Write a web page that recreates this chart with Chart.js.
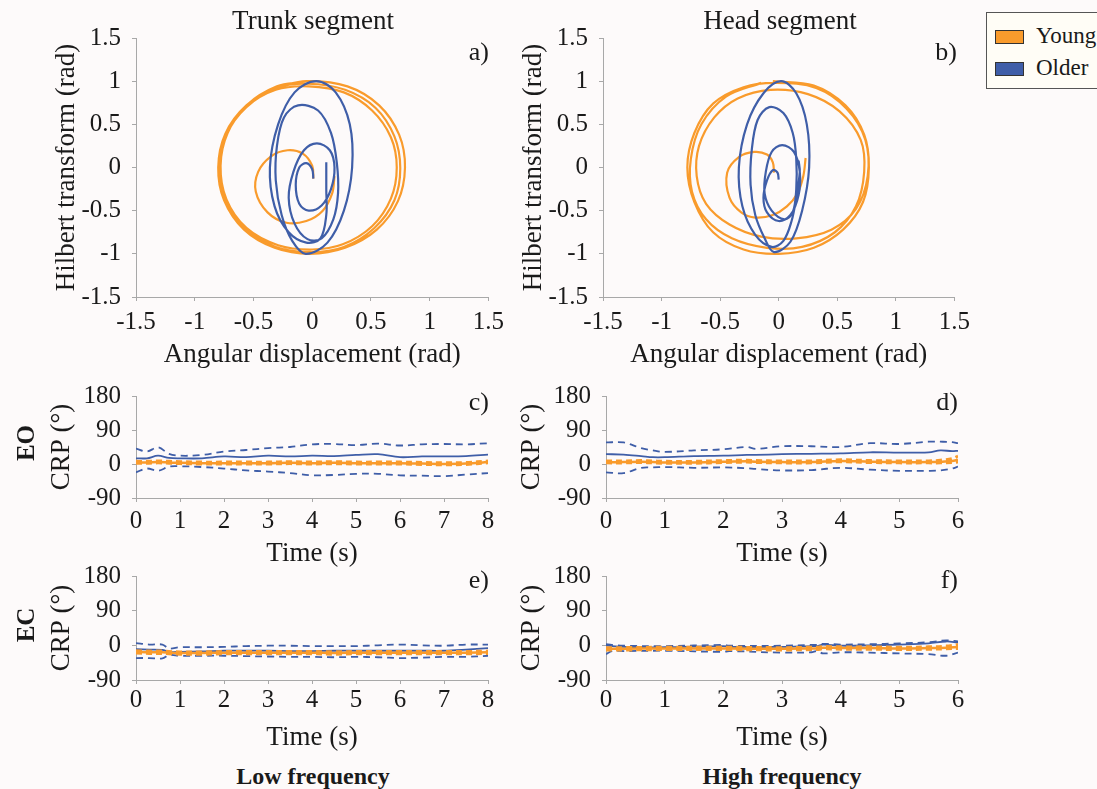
<!DOCTYPE html>
<html>
<head>
<meta charset="utf-8">
<script src="https://cdn.jsdelivr.net/npm/chart.js@4.4.1/dist/chart.umd.min.js"></script>
<style>
  body { margin: 0; background: #fdfafa; }
  #fig { position: relative; width: 1097px; height: 789px; overflow: hidden; background: #fdfafa;
         font-family: 'Liberation Serif', 'Times New Roman', serif; color: #1a1a1a; }
  #fig canvas { position: absolute; }
  .lbl { position: absolute; white-space: nowrap; font-size: 27px; line-height: 1; transform: translate(-50%, -50%); }
  .bold { font-weight: bold; }
  .rot { transform: translate(-50%, -50%) rotate(-90deg); }
  .letter { position: absolute; font-size: 26px; line-height: 1; transform: translate(-100%, -50%); }
  #legend { position: absolute; left: 986px; top: 12px; width: 130px; height: 77px; border: 1px solid #555;
            background: #fffdf6; box-sizing: border-box; }
  #legend .item { position: absolute; left: 8px; height: 24px; font-size: 23px; line-height: 24px; }
  #legend .sw { position: absolute; left: 0; top: 6px; width: 27px; height: 12px; border: 1px solid #333; }
  #legend .txt { position: absolute; left: 41px; top: 0; }
</style>
</head>
<body>
<div id="fig">
  <canvas id="chartA" width="466" height="372" style="left:44px;top:0px"></canvas>
  <canvas id="chartB" width="466" height="372" style="left:510px;top:0px"></canvas>
  <canvas id="chartC" width="466" height="200" style="left:44px;top:370px"></canvas>
  <canvas id="chartD" width="466" height="200" style="left:514px;top:370px"></canvas>
  <canvas id="chartE" width="466" height="205" style="left:44px;top:550px"></canvas>
  <canvas id="chartF" width="466" height="205" style="left:514px;top:550px"></canvas>

  <div class="lbl" style="left:313px;top:20px">Trunk segment</div>
  <div class="lbl" style="left:780px;top:20px">Head segment</div>
  <div class="letter" style="left:489px;top:52px">a)</div>
  <div class="letter" style="left:957px;top:52px">b)</div>
  <div class="letter" style="left:489px;top:402px">c)</div>
  <div class="letter" style="left:958px;top:402px">d)</div>
  <div class="letter" style="left:489px;top:580px">e)</div>
  <div class="letter" style="left:958px;top:580px">f)</div>
  <div class="lbl bold rot" style="left:25px;top:443px;font-size:25px">EO</div>
  <div class="lbl bold rot" style="left:25px;top:625px;font-size:25px">EC</div>
  <div class="lbl bold" style="left:313px;top:776px;font-size:24px">Low frequency</div>
  <div class="lbl bold" style="left:782px;top:776px;font-size:24px">High frequency</div>

  <div id="legend">
    <div class="item" style="top:11px"><span class="sw" style="background:#f99b2c"></span><span class="txt">Young</span></div>
    <div class="item" style="top:43px"><span class="sw" style="background:#3f5ea8"></span><span class="txt">Older</span></div>
  </div>
</div>

<script>
/* ---------- colours / fonts ---------- */
const YOUNG = '#f99b2c';
const OLDER = '#3f5ea8';
const TEXT = '#1a1a1a';
const AXIS = '#a8a8a8';
const TICK_FONT = { family: "'Liberation Serif', serif", size: 25 };
const TITLE_FONT = { family: "'Liberation Serif', serif", size: 27 };

/* ---------- phase portraits (angle, Hilbert transform) ---------- */
// trunk, older (a)
const trunkOlder = [
  [0.01,-0.13],[0.0,-0.02],[-0.05,0.05],[-0.11,0.0],[-0.14,-0.2],[-0.11,-0.42],[-0.03,-0.5],
  [0.08,-0.44],[0.16,-0.25],[0.19,0.0],[0.15,0.2],[0.04,0.28],[-0.07,0.2],[-0.16,-0.05],
  [-0.2,-0.35],[-0.15,-0.65],[-0.04,-0.83],[0.08,-0.82],[0.18,-0.6],[0.22,-0.3],[0.21,0.05],
  [0.16,0.4],[0.05,0.66],[-0.12,0.72],[-0.24,0.58],[-0.3,0.25],[-0.31,-0.15],[-0.26,-0.55],
  [-0.17,-0.85],[-0.055,-1.0],[0.13,-0.87],[0.27,-0.5],[0.34,0.0],[0.32,0.5],[0.2,0.87],
  [0.035,1.0],[-0.15,0.87],[-0.29,0.5],[-0.36,0.0],[-0.32,-0.45],[-0.2,-0.75],[-0.05,-0.87],
  [0.07,-0.82],[0.12,-0.55],[0.12,-0.25],[0.12,0.06]
];
// trunk, young (a): inner spiral and the large loops
const trunkYoungInner = [
  [0.01,-0.13],[0.0,0.02],[-0.08,0.16],[-0.21,0.2],[-0.35,0.13],[-0.46,-0.05],[-0.48,-0.28],
  [-0.38,-0.52],[-0.22,-0.64],[-0.05,-0.62],[0.09,-0.5],[0.17,-0.3],[0.19,-0.1]
];
const trunkYoungLoops = [
  [-0.3,0.93],[-0.05,1.0],[0.3,0.94],[0.57,0.72],[0.74,0.38],[0.79,0.0],[0.73,-0.39],[0.55,-0.72],[0.28,-0.93],
  [-0.02,-1.0],[-0.32,-0.93],[-0.58,-0.72],[-0.75,-0.38],[-0.8,0.0],[-0.74,0.39],[-0.56,0.72],[-0.31,0.92],
  [-0.04,0.97],[0.28,0.9],[0.54,0.69],[0.7,0.36],[0.75,-0.01],[0.7,-0.38],[0.53,-0.7],[0.27,-0.92],
  [-0.01,-0.98],[-0.31,-0.92],[-0.57,-0.7],[-0.74,-0.36],[-0.79,0.01],[-0.73,0.38],[-0.56,0.7],[-0.31,0.9],
  [-0.03,0.94],[0.27,0.87],[0.51,0.66],[0.67,0.35],[0.72,0.0],[0.67,-0.36],[0.51,-0.68],[0.26,-0.89],
  [0.0,-0.95],[-0.29,-0.9],[-0.56,-0.7],[-0.73,-0.37],[-0.78,0.02],[-0.72,0.4],[-0.55,0.73],[-0.3,0.94],
  [-0.08,0.99]
];
// head, older (b)
const headOlder = [
  [0.0,-0.14],[-0.01,-0.06],[-0.05,-0.03],[-0.1,-0.15],[-0.13,-0.35],[-0.1,-0.52],[0.0,-0.62],
  [0.1,-0.55],[0.17,-0.32],[0.18,-0.05],[0.13,0.18],[0.03,0.26],[-0.06,0.18],[-0.11,-0.05],
  [-0.12,-0.3],[-0.06,-0.5],[0.05,-0.6],[0.12,-0.52],[0.15,-0.25],[0.15,0.1],[0.12,0.4],
  [0.04,0.63],[-0.08,0.7],[-0.18,0.55],[-0.23,0.2],[-0.24,-0.2],[-0.2,-0.55],[-0.12,-0.82],
  [-0.04,-0.98],[0.1,-0.86],[0.2,-0.5],[0.26,0.0],[0.24,0.5],[0.15,0.86],[0.02,1.0],
  [-0.13,0.86],[-0.27,0.5],[-0.34,0.0],[-0.31,-0.45],[-0.2,-0.78],[-0.06,-0.92],[0.04,-0.85],
  [0.11,-0.62],[0.15,-0.35],[0.18,-0.05],[0.17,0.08]
];
// head, young (b)
const headYoungInner = [
  [-0.04,-0.06],[-0.05,0.06],[-0.1,0.15],[-0.21,0.18],[-0.34,0.12],[-0.44,-0.06],[-0.42,-0.35],
  [-0.32,-0.52],[-0.2,-0.58],[-0.05,-0.55],[0.07,-0.45],[0.16,-0.3],[0.21,-0.1],[0.23,0.11]
];
const headYoungLoops = [
  [-0.05,1.0],[0.3,0.95],[0.57,0.72],[0.73,0.38],[0.77,0.0],[0.72,-0.4],[0.55,-0.72],[0.3,-0.93],
  [0.0,-1.0],[-0.3,-0.95],[-0.56,-0.75],[-0.72,-0.4],[-0.78,0.0],[-0.72,0.4],[-0.56,0.74],[-0.3,0.93],
  [-0.02,0.98],[0.32,0.92],[0.58,0.68],[0.74,0.32],[0.76,-0.1],[0.66,-0.48],[0.45,-0.72],[0.15,-0.82],
  [-0.15,-0.8],[-0.42,-0.66],[-0.62,-0.42],[-0.7,-0.1],[-0.68,0.25],[-0.55,0.58],[-0.35,0.8],[-0.07,0.9],
  [0.25,0.85],[0.52,0.65],[0.7,0.32],[0.73,-0.05],[0.66,-0.45],[0.48,-0.75],[0.2,-0.92],[-0.1,-0.93],
  [-0.4,-0.82],[-0.62,-0.6],[-0.74,-0.28],[-0.75,0.1],[-0.66,0.5],[-0.45,0.82],[-0.15,0.98]
];

/* ---------- CRP (deg) over time ---------- */
// c) trunk, EO, low frequency
const timeC = [0,0.25,0.5,0.75,1,1.5,2,2.5,3,3.5,4,4.5,5,5.5,6,6.5,7,7.5,8];
const olderMeanC  = [15,15,22,16,15,15,20,18,22,20,22,21,24,26,18,20,20,21,25];
const olderUpperC = [41,33,44,27,22,24,33,37,42,45,52,53,50,54,49,52,53,52,55];
const olderLowerC = [-22,-12,-18,-7,-6,-8,-12,-17,-20,-24,-30,-29,-26,-26,-30,-31,-32,-28,-24];
const youngMeanC  = [4,4,5,4,3,2,2,2,2,3,2,3,2,2,2,1,0,1,5];
const youngUpperC = [7,7,8,7,6,5,5,5,5,6,5,6,5,5,5,4,3,4,8];
const youngLowerC = [2,2,3,2,1,0,0,0,0,1,0,1,0,0,0,-1,-2,-1,3];

// d) head, EO, high frequency
const timeD = [0,0.3,0.6,0.8,1,1.5,2,2.4,2.55,3,3.5,4,4.5,5,5.5,5.7,5.9,6];
const olderMeanD  = [26,25,21,18,18,21,22,24,24,26,27,28,31,30,31,36,34,35];
const olderUpperD = [57,57,42,36,32,36,39,45,40,47,47,45,55,53,59,59,58,55];
const olderLowerD = [-22,-24,-10,-9,-8,-10,-9,-11,-13,-17,-16,-10,-15,-18,-18,-17,-12,-7];
const youngMeanD  = [5,5,6,5,4,4,6,7,6,5,5,8,6,5,5,6,8,11];
const youngUpperD = [8,8,9,8,7,7,9,10,9,8,8,11,9,8,8,10,14,21];
const youngLowerD = [3,3,4,3,2,2,4,5,4,3,3,6,4,3,3,3,4,5];

// e) trunk, EC, low frequency
const timeE = [0,0.3,0.6,0.75,1,1.5,2,2.5,3,3.5,4,4.5,5,5.5,6,6.5,7,7.5,8];
const olderMeanE  = [-10,-11,-12,-17,-17,-16,-14,-14,-14,-15,-15,-14,-14,-14,-14,-14,-14,-11,-7];
const olderUpperE = [6,2,2,-8,-5,-5,-4,-2,-1,-1,-2,-2,-2,0,2,0,-1,2,2];
const olderLowerE = [-33,-33,-34,-25,-27,-27,-27,-28,-29,-30,-30,-31,-30,-31,-33,-32,-30,-30,-27];
const youngMeanE  = [-17,-18,-18,-19,-20,-20,-19,-19,-19,-19,-19,-20,-19,-19,-19,-19,-19,-19,-18];
const youngUpperE = [-14,-15,-15,-16,-17,-17,-16,-16,-16,-16,-16,-17,-16,-16,-16,-16,-16,-16,-15];
const youngLowerE = [-20,-21,-21,-22,-23,-23,-22,-22,-22,-22,-22,-23,-22,-22,-22,-22,-22,-22,-21];

// f) head, EC, high frequency
const timeF = [0,0.1,0.3,1,2,2.1,3,3.5,3.6,3.7,4,4.5,5,5.5,5.8,6];
const olderMeanF  = [0,-2,-4,-5,-2,-4,-4,-2,-2,2,-1,0,2,5,10,7];
const olderUpperF = [3,1,-1,-2,1,-1,-1,1,1,4,2,3,5,8,13,10];
const olderLowerF = [-23,-15,-15,-14,-17,-15,-19,-18,-15,-21,-18,-19,-21,-23,-27,-19];
const youngMeanF  = [-9,-9,-9,-8,-8,-8,-9,-8,-8,-6,-7,-7,-8,-7,-6,-4];
const youngUpperF = [-6,-6,-6,-5,-5,-5,-6,-5,-5,-3,-4,-4,-5,-4,-2,2];
const youngLowerF = [-12,-12,-12,-11,-11,-11,-12,-11,-11,-9,-10,-10,-11,-10,-9,-8];

/* ---------- helpers ---------- */
const toPoints = pairs => pairs.map(p => ({ x: p[0], y: p[1] }));
const zipPoints = (xs, ys) => xs.map((x, i) => ({ x: x, y: ys[i] }));

function lineSet(data, color, width, dash) {
    return {
        data: data,
        borderColor: color,
        backgroundColor: color,
        borderWidth: width,
        borderDash: dash || [],
        showLine: true,
        pointRadius: 0,
        tension: 0.35,
        fill: false
    };
}

/**
 * one linear axis with a fixed box size, so that the plot areas line up
 */
function makeAxis(o) {
    return {
        type: 'linear',
        min: o.min,
        max: o.max,
        ticks: {
            stepSize: o.step,
            padding: o.tickPad,
            color: TEXT,
            font: TICK_FONT,
            callback: (v) => String(v)
        },
        grid: { drawOnChartArea: false, drawTicks: true, tickLength: 4, color: AXIS },
        border: { color: AXIS, width: 1 },
        title: {
            display: true,
            text: o.title,
            color: TEXT,
            font: TITLE_FONT,
            padding: o.titlePad
        },
        afterFit: (scale) => {
            if (o.width) scale.width = o.width;
            if (o.height) scale.height = o.height;
        }
    };
}

function drawPanel(id, datasets, x, y, pad) {
    new Chart(document.getElementById(id), {
        type: 'scatter',
        data: { datasets: datasets },
        options: {
            responsive: false,
            devicePixelRatio: 1,
            animation: false,
            layout: { padding: pad },
            plugins: { legend: { display: false }, tooltip: { enabled: false }, title: { display: false } },
            scales: { x: makeAxis(x), y: makeAxis(y) }
        }
    });
}

/* ---------- a) / b) phase portraits ---------- */
const phaseX = { min: -1.5, max: 1.5, step: 0.5, title: 'Angular displacement (rad)', tickPad: 6,
                 titlePad: { top: 0, bottom: 1 }, height: 75 };

drawPanel('chartA', [
    lineSet(toPoints(trunkOlder), OLDER, 2.2),
    lineSet(toPoints(trunkYoungInner), YOUNG, 2.2),
    lineSet(toPoints(trunkYoungLoops), YOUNG, 2.2)
], phaseX,
{ min: -1.5, max: 1.5, step: 0.5, title: 'Hilbert transform (rad)', tickPad: 11,
  titlePad: { top: 7, bottom: 0 }, width: 92 },
{ top: 38, right: 21, bottom: 0, left: 0 });

drawPanel('chartB', [
    lineSet(toPoints(headOlder), OLDER, 2.2),
    lineSet(toPoints(headYoungInner), YOUNG, 2.2),
    lineSet(toPoints(headYoungLoops), YOUNG, 2.2)
], phaseX,
{ min: -1.5, max: 1.5, step: 0.5, title: 'Hilbert transform (rad)', tickPad: 11,
  titlePad: { top: 8, bottom: 0 }, width: 93 },
{ top: 38, right: 21, bottom: 0, left: 0 });

/* ---------- c) - f) CRP ---------- */
function crpSets(t, ym, yu, yl, om, ou, ol) {
    return [
        lineSet(zipPoints(t, ym), YOUNG, 2.5),
        lineSet(zipPoints(t, yu), YOUNG, 3, [6, 4]),
        lineSet(zipPoints(t, yl), YOUNG, 3, [6, 4]),
        lineSet(zipPoints(t, om), OLDER, 1.8),
        lineSet(zipPoints(t, ou), OLDER, 1.8, [7, 5]),
        lineSet(zipPoints(t, ol), OLDER, 1.8, [7, 5])
    ];
}

const crpY = { min: -90, max: 180, step: 90, title: 'CRP (°)', tickPad: 11,
               titlePad: { top: 2, bottom: 0 }, width: 92 };

drawPanel('chartC', crpSets(timeC, youngMeanC, youngUpperC, youngLowerC, olderMeanC, olderUpperC, olderLowerC),
    { min: 0, max: 8, step: 1, title: 'Time (s)', tickPad: 4, titlePad: { top: 0, bottom: 0 }, height: 72 },
    crpY, { top: 19, right: 22, bottom: 0, left: 0 });

drawPanel('chartD', crpSets(timeD, youngMeanD, youngUpperD, youngLowerD, olderMeanD, olderUpperD, olderLowerD),
    { min: 0, max: 6, step: 1, title: 'Time (s)', tickPad: 4, titlePad: { top: 0, bottom: 0 }, height: 72 },
    crpY, { top: 19, right: 22, bottom: 0, left: 0 });

drawPanel('chartE', crpSets(timeE, youngMeanE, youngUpperE, youngLowerE, olderMeanE, olderUpperE, olderLowerE),
    { min: 0, max: 8, step: 1, title: 'Time (s)', tickPad: 1, titlePad: { top: 0, bottom: 1 }, height: 75 },
    crpY, { top: 20, right: 22, bottom: 0, left: 0 });

drawPanel('chartF', crpSets(timeF, youngMeanF, youngUpperF, youngLowerF, olderMeanF, olderUpperF, olderLowerF),
    { min: 0, max: 6, step: 1, title: 'Time (s)', tickPad: 1, titlePad: { top: 0, bottom: 1 }, height: 75 },
    crpY, { top: 20, right: 22, bottom: 0, left: 0 });
</script>
</body>
</html>
